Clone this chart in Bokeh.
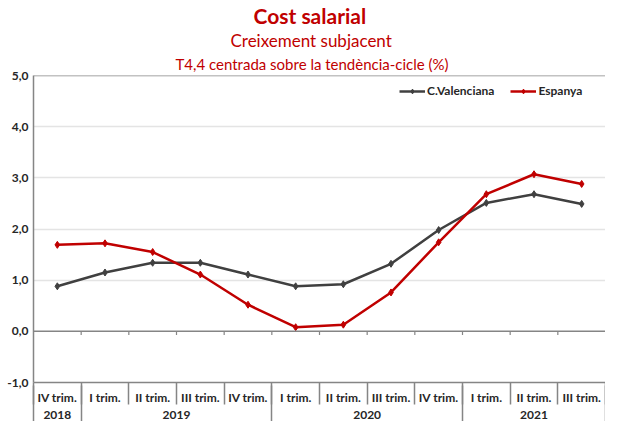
from bokeh.plotting import figure
from bokeh.models import (Range1d, LinearAxis, FixedTicker, CustomJSTickFormatter,
                          Span, Legend, LegendItem, Title, ColumnDataSource)
from bokeh.embed import file_html
from bokeh.resources import INLINE

# ---------------- data ----------------
quarters = ["IV trim.", "I trim.", "II trim.", "III trim.", "IV trim.",
            "I trim.", "II trim.", "III trim.", "IV trim.",
            "I trim.", "II trim.", "III trim."]
years = ["2018", "2019", "2020", "2021"]
quarters_per_year = [1, 4, 4, 3]
valenciana = [0.88, 1.15, 1.34, 1.34, 1.11, 0.88, 0.92, 1.32, 1.98, 2.51, 2.68, 2.49]
espanya = [1.69, 1.72, 1.55, 1.11, 0.52, 0.08, 0.13, 0.76, 1.74, 2.68, 3.07, 2.88]
y_ticks = [-1, 0, 1, 2, 3, 4, 5]
grid_ticks = [1, 2, 3, 4]

FONT = "Lato"
RED = "#C00000"
GREY = "#404040"
AXIS = "#858585"
TXT = "#262626"

n = len(quarters)
xs = [i + 0.5 for i in range(n)]
bounds = list(range(n + 1))
year_bounds = [0]
for q in quarters_per_year:
    year_bounds.append(year_bounds[-1] + q)
year_centers = [(year_bounds[i] + year_bounds[i + 1]) / 2 for i in range(len(years))]

p = figure(width=605, height=421, x_range=Range1d(0, n), y_range=Range1d(-1, 5),
           output_backend="svg", toolbar_location=None, x_axis_location=None,
           min_border_left=33, min_border_right=0, min_border_top=0, min_border_bottom=0)
p.title = None
p.outline_line_color = None
p.background_fill_color = "white"
p.border_fill_color = "white"

# titles (added innermost first)
p.add_layout(Title(text="T4,4 centrada sobre la tendència-cicle (%)", align="left", offset=142,
                   text_font=FONT, text_font_size="15px", text_font_style="normal",
                   text_color=RED, standoff=5), "above")
p.add_layout(Title(text="Creixement subjacent", align="left", offset=197,
                   text_font=FONT, text_font_size="17px", text_font_style="normal",
                   text_color=RED, standoff=0), "above")
p.add_layout(Title(text="Cost salarial", align="left", offset=220,
                   text_font=FONT, text_font_size="21px", text_font_style="bold",
                   text_color=RED, standoff=0), "above")

# y axis
p.yaxis.ticker = FixedTicker(ticks=y_ticks)
p.yaxis.formatter = CustomJSTickFormatter(code="return tick.toFixed(1).replace('.', ',');")
p.yaxis.major_label_text_font = FONT
p.yaxis.major_label_text_font_size = "12px"
p.yaxis.major_label_text_font_style = "bold"
p.yaxis.major_label_text_color = TXT
p.yaxis.major_tick_out = 0
p.yaxis.major_tick_in = 0
p.yaxis.minor_tick_line_color = None
p.yaxis.axis_line_color = AXIS
p.yaxis.axis_line_width = 1.5
p.yaxis.major_label_standoff = 5

p.xgrid.grid_line_color = None
p.ygrid.ticker = FixedTicker(ticks=grid_ticks)
p.ygrid.grid_line_color = "#e4e4e4"
p.ygrid.grid_line_width = 1.5

# top border and zero line
p.add_layout(Span(location=5, dimension="width", line_color=AXIS, line_width=1.5))
p.add_layout(Span(location=0, dimension="width", line_color=AXIS, line_width=1.5))
p.segment(x0=bounds[1:-1], y0=[0] * (n - 1), x1=bounds[1:-1], y1=[-0.07] * (n - 1),
          line_color=AXIS, line_width=1.2)

# quarter axis
qaxis = LinearAxis(ticker=FixedTicker(ticks=xs, minor_ticks=bounds),
                   formatter=CustomJSTickFormatter(args=dict(labels=quarters),
                                                   code="return labels[Math.floor(tick)];"))
qaxis.major_tick_out = 0
qaxis.major_tick_in = 0
qaxis.minor_tick_out = 22
qaxis.minor_tick_in = 0
qaxis.minor_tick_line_color = AXIS
qaxis.minor_tick_line_width = 1.5
qaxis.axis_line_color = AXIS
qaxis.axis_line_width = 1.5
qaxis.major_label_standoff = -15
qaxis.major_label_text_font = FONT
qaxis.major_label_text_font_size = "12px"
qaxis.major_label_text_font_style = "bold"
qaxis.major_label_text_color = TXT
p.add_layout(qaxis, "below")

# year axis
yaxis2 = LinearAxis(ticker=FixedTicker(ticks=year_centers, minor_ticks=year_bounds),
                    formatter=CustomJSTickFormatter(args=dict(labels=years, centers=year_centers),
                                                    code="return labels[centers.indexOf(tick)];"))
yaxis2.major_tick_out = 0
yaxis2.major_tick_in = 0
yaxis2.minor_tick_out = 20
yaxis2.minor_tick_in = 22
yaxis2.minor_tick_line_color = AXIS
yaxis2.minor_tick_line_width = 1.5
yaxis2.axis_line_color = None
yaxis2.major_label_standoff = -17
yaxis2.major_label_text_font = FONT
yaxis2.major_label_text_font_size = "12px"
yaxis2.major_label_text_font_style = "bold"
yaxis2.major_label_text_color = TXT
p.add_layout(yaxis2, "below")

# series
src = ColumnDataSource(dict(x=xs, cv=valenciana, es=espanya))
l1 = p.line("x", "cv", source=src, line_color=GREY, line_width=2.5)
m1 = p.scatter("x", "cv", source=src, marker="diamond", size=7, color=GREY)
l2 = p.line("x", "es", source=src, line_color=RED, line_width=2.5)
m2 = p.scatter("x", "es", source=src, marker="diamond", size=7, color=RED)

legend = Legend(items=[LegendItem(label="C.Valenciana", renderers=[l1, m1]),
                       LegendItem(label="Espanya", renderers=[l2, m2])],
                orientation="horizontal", location=(366, 284))
legend.border_line_color = None
legend.background_fill_alpha = 0
legend.padding = 0
legend.spacing = 16
legend.glyph_width = 26
legend.glyph_height = 12
legend.label_standoff = 2
legend.label_text_font = FONT
legend.label_text_font_size = "12px"
legend.label_text_font_style = "bold"
legend.label_text_color = TXT
legend.label_height = 12
p.add_layout(legend, "center")

open("out.html", "w").write(file_html(p, INLINE))
